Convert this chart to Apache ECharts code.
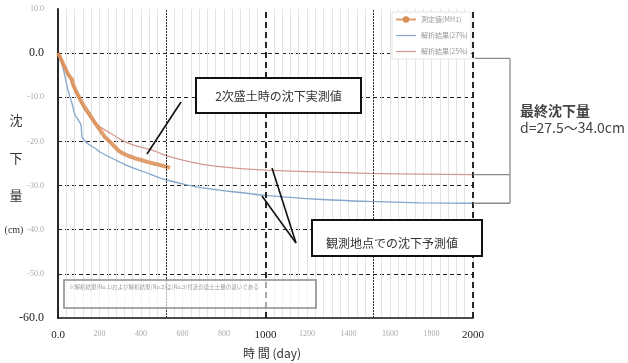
<!DOCTYPE html>
<html>
<head>
<meta charset="utf-8">
<script src="https://cdn.jsdelivr.net/npm/echarts@6/dist/echarts.min.js"></script>
<style>
  html, body { margin: 0; padding: 0; background: #fff; }
  #chart { width: 628px; height: 363px; }
</style>
</head>
<body>
<div id="chart"></div>
<script>
// Settlement vs. time: measured values during the 2nd embankment and two analysis curves
const seriesNames = ['測定値(MH1)', '解析結果(27%)', '解析結果(25%)'];

// measured settlement [day, cm]
const measured = [
  [0, 0], [10, -0.9], [29, -2.9], [48, -4.7], [58, -5.4], [67, -5.9], [72, -7.0],
  [82, -8.1], [101, -9.9], [116, -11.3], [135, -12.7], [154, -14.0], [178, -15.8],
  [202, -17.4], [226, -19.0], [251, -20.1], [275, -21.3], [290, -22.0], [308, -22.6],
  [340, -23.3], [370, -23.8], [400, -24.2], [434, -24.7], [470, -25.1], [510, -25.6],
  [540, -26.0]
];

// analysis result (27%)
const analysis27 = [
  [0, 0], [10, -0.9], [29, -4.3], [48, -8.4], [67, -11.3], [82, -14.0], [101, -15.4],
  [111, -16.3], [116, -19.0], [130, -19.9], [145, -20.6], [178, -21.5], [202, -22.4],
  [255, -23.7], [308, -24.9], [361, -26.0], [443, -27.4], [492, -28.3], [600, -29.6],
  [684, -30.4], [843, -31.4], [1000, -32.2], [1250, -33.1], [1500, -33.6],
  [1750, -33.9], [2000, -34.0]
];

// analysis result (25%)
const analysis25 = [
  [0, 0], [39, -3.8], [82, -8.4], [130, -12.9], [178, -15.8], [202, -16.7],
  [251, -18.1], [308, -19.7], [361, -20.8], [467, -22.2], [525, -23.3], [684, -25.1],
  [843, -26.0], [1000, -26.5], [1250, -26.9], [1500, -27.25], [1750, -27.4],
  [2000, -27.5]
];

const xTicks = { min: 0, max: 2000, step: 200 };
const yTicks = { min: -60, max: 10, step: 10 };
const xStrong = [0, 1000, 2000];
const yStrong = [0, -60];
const finalSettlement = [27.5, 34.0];
const bracketTopValue = -1.2;

const chart = echarts.init(document.getElementById('chart'), null, { renderer: 'canvas' });

const serif = '"Liberation Serif", "DejaVu Serif", serif';
const cjk = '"Noto Sans CJK JP", "Noto Sans", sans-serif';
const flatLineIcon = 'path://M0,0 L22,0 L22,1.3 L0,1.3 Z';

const option = {
  backgroundColor: '#ffffff',
  animation: false,
  grid: { left: 58, right: 155, top: 9, bottom: 45 },
  legend: {
    orient: 'vertical',
    left: 392, top: 12,
    itemGap: 9,
    itemWidth: 20, itemHeight: 8,
    textStyle: { fontSize: 7, color: '#999', fontFamily: cjk },
    backgroundColor: '#ffffff',
    borderColor: '#e6e6e6', borderWidth: 1,
    padding: [4, 3, 4, 3],
    data: [
      { name: seriesNames[0] },
      { name: seriesNames[1], icon: flatLineIcon },
      { name: seriesNames[2], icon: flatLineIcon }
    ]
  },
  xAxis: {
    type: 'value',
    min: xTicks.min, max: xTicks.max, interval: xTicks.step,
    axisLine: { show: true, onZero: false, lineStyle: { color: '#111', width: 1.6 } },
    axisTick: { show: false },
    axisLabel: {
      margin: 12,
      formatter: v => xStrong.includes(v) ? '{s|' + (v === 0 ? '0.0' : v) + '}' : '{w|' + v + '}',
      rich: {
        s: { fontFamily: serif, fontSize: 11, color: '#222' },
        w: { fontFamily: serif, fontSize: 8, color: '#aaa' }
      }
    },
    splitLine: { show: true, lineStyle: { color: '#e3e3e3', width: 1 } },
    minorTick: { show: false, splitNumber: 5 },
    minorSplitLine: { show: true, lineStyle: { color: '#e3e3e3', width: 1 } }
  },
  yAxis: {
    type: 'value',
    min: yTicks.min, max: yTicks.max, interval: yTicks.step,
    axisLine: { show: true, onZero: false, lineStyle: { color: '#111', width: 1.8 } },
    axisTick: { show: false },
    axisLabel: {
      margin: 14,
      formatter: v => yStrong.includes(v) ? '{s|' + v.toFixed(1) + '}' : '{w|' + v.toFixed(1) + '}',
      rich: {
        s: { fontFamily: serif, fontSize: 12, color: '#222' },
        w: { fontFamily: serif, fontSize: 8, color: '#aaa' }
      }
    },
    splitLine: {
      show: true, showMaxLine: false, showMinLine: false,
      lineStyle: { color: '#222', width: 1.2, type: [4, 3] }
    }
  },
  series: [
    {
      name: seriesNames[0], type: 'line', data: measured,
      symbol: 'circle', symbolSize: 3, showSymbol: false,
      lineStyle: { color: '#d98d52', width: 4, opacity: 0.85 },
      itemStyle: { color: '#d98d52' },
      z: 4
    },
    {
      name: seriesNames[1], type: 'line', data: analysis27, smooth: 0.2,
      symbol: 'none',
      lineStyle: { color: '#86a6cc', width: 1.3 },
      itemStyle: { color: '#86a6cc' },
      z: 3,
      markLine: {
        silent: true, symbol: 'none', label: { show: false },
        data: [
          { xAxis: 1000, lineStyle: { color: '#111', width: 1.8, type: [6, 4] } },
          { xAxis: 2000, lineStyle: { color: '#111', width: 1.8, type: [6, 4] } },
          { xAxis: 520, lineStyle: { color: '#333', width: 1, type: [2, 1] } },
          { xAxis: 1520, lineStyle: { color: '#333', width: 1, type: [2, 1] } }
        ]
      }
    },
    {
      name: seriesNames[2], type: 'line', data: analysis25, smooth: 0.2,
      symbol: 'none',
      lineStyle: { color: '#d39a90', width: 1.3 },
      itemStyle: { color: '#d39a90' },
      z: 3
    }
  ]
};

chart.setOption(option);

// annotation boxes, callouts, axis titles and the final-settlement bracket
const px = (x, y) => chart.convertToPixel({ gridIndex: 0 }, [x, y]);
const top0 = px(xTicks.max, bracketTopValue);
const redEnd = px(xTicks.max, -finalSettlement[0]);
const blueEnd = px(xTicks.max, -finalSettlement[1]);
const bx = 510;
const grey = { stroke: '#8a8a8a', lineWidth: 1.3 };

const graphics = [
  // note box in the lower left of the plot
  { type: 'rect', shape: { x: 64, y: 280, width: 252, height: 28 },
    style: { fill: 'rgba(255,255,255,0.6)', stroke: '#8c8c8c', lineWidth: 1.6 }, z: 10 },
  { type: 'text', left: 69, top: 284, z: 11,
    style: { text: '※解析結果(No.1)および解析結果(No.2)は(No.3)付近の盛土土量の違いである',
             font: '5.5px ' + cjk, fill: '#999' } },

  // callout: measured values during 2nd embankment
  { type: 'line', shape: { x1: 147, y1: 154, x2: 181, y2: 102 },
    style: { stroke: '#111', lineWidth: 1.6 }, z: 10 },
  { type: 'rect', shape: { x: 196, y: 78, width: 165, height: 35 },
    style: { fill: '#fff', stroke: '#111', lineWidth: 2 }, z: 10 },
  { type: 'text', x: 278.5, y: 96, z: 11,
    style: { text: '2次盛土時の沈下実測値', font: '12px ' + cjk, fill: '#333',
             textAlign: 'center', textVerticalAlign: 'middle' } },

  // callout: predicted settlement at the observation point
  { type: 'line', shape: { x1: 272, y1: 168, x2: 296, y2: 243 },
    style: { stroke: '#111', lineWidth: 1.6 }, z: 10 },
  { type: 'line', shape: { x1: 262, y1: 196, x2: 296, y2: 243 },
    style: { stroke: '#111', lineWidth: 1.6 }, z: 10 },
  { type: 'rect', shape: { x: 312, y: 220, width: 170, height: 36 },
    style: { fill: '#fff', stroke: '#111', lineWidth: 2 }, z: 10 },
  { type: 'text', x: 392, y: 243, z: 11,
    style: { text: '観測地点での沈下予測値', font: '12px ' + cjk, fill: '#333',
             textAlign: 'center', textVerticalAlign: 'middle' } },

  // final settlement bracket
  { type: 'line', shape: { x1: top0[0] + 2, y1: top0[1], x2: bx, y2: top0[1] }, style: grey, z: 5 },
  { type: 'line', shape: { x1: redEnd[0], y1: redEnd[1], x2: bx, y2: redEnd[1] }, style: grey, z: 5 },
  { type: 'line', shape: { x1: blueEnd[0], y1: blueEnd[1], x2: bx, y2: blueEnd[1] }, style: grey, z: 5 },
  { type: 'line', shape: { x1: bx, y1: top0[1], x2: bx, y2: blueEnd[1] }, style: grey, z: 5 },
  { type: 'text', left: 520, top: 104, z: 11,
    style: { text: '最終沈下量', font: 'bold 14px ' + cjk, fill: '#444' } },
  { type: 'text', left: 520, top: 121, z: 11,
    style: { text: 'd=' + finalSettlement[0].toFixed(1) + '～' + finalSettlement[1].toFixed(1) + 'cm',
             font: '14px ' + cjk, fill: '#444' } },

  // axis titles
  { type: 'text', x: 272, y: 353, z: 11,
    style: { text: '時 間 (day)', font: '12px ' + cjk, fill: '#333',
             textAlign: 'center', textVerticalAlign: 'middle' } },
  { type: 'text', x: 16, y: 120, z: 11,
    style: { text: '沈', font: '13px ' + cjk, fill: '#333', textAlign: 'center', textVerticalAlign: 'middle' } },
  { type: 'text', x: 16, y: 158, z: 11,
    style: { text: '下', font: '13px ' + cjk, fill: '#333', textAlign: 'center', textVerticalAlign: 'middle' } },
  { type: 'text', x: 16, y: 195, z: 11,
    style: { text: '量', font: '13px ' + cjk, fill: '#333', textAlign: 'center', textVerticalAlign: 'middle' } },
  { type: 'text', x: 14, y: 230, z: 11,
    style: { text: '(cm)', font: '10px ' + serif, fill: '#333', textAlign: 'center', textVerticalAlign: 'middle' } }
];

chart.setOption({ graphic: graphics });
</script>
</body>
</html>
